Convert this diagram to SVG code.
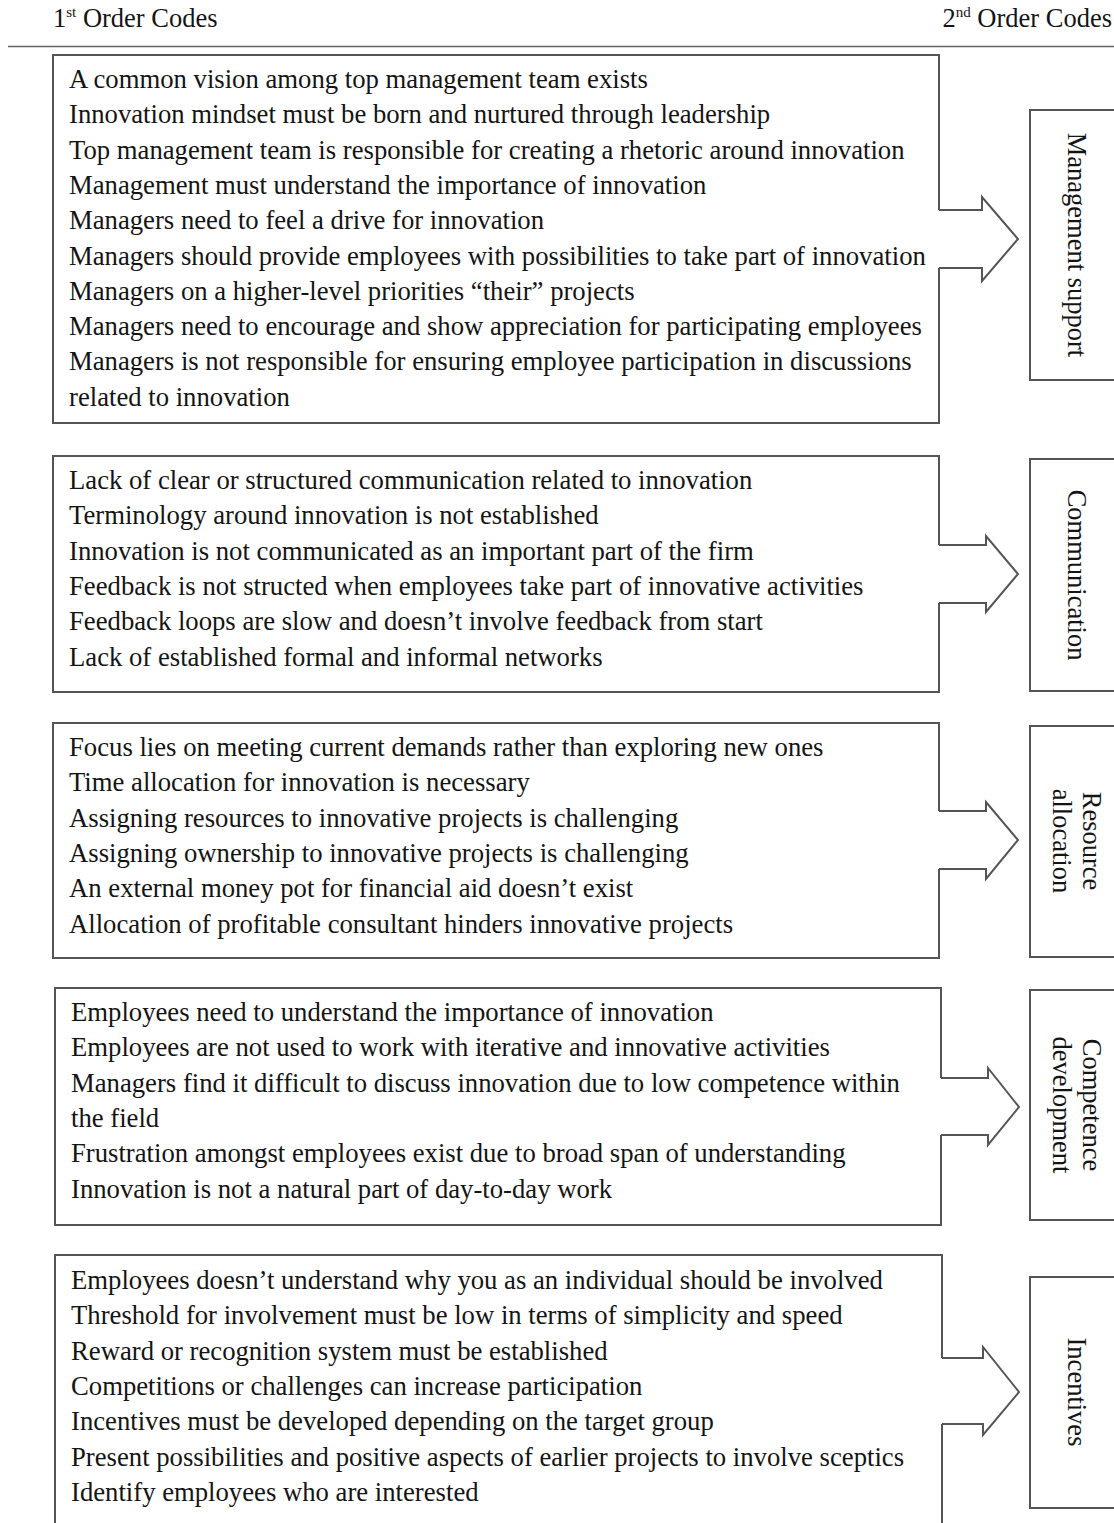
<svg xmlns="http://www.w3.org/2000/svg" width="1114" height="1523" viewBox="0 0 1114 1523">
<style>
.t{font-family:"Liberation Serif","Times New Roman",serif;font-size:26.7px;fill:#141414}
.h{font-size:26.5px}
.sup{font-size:15px}
.b{fill:none;stroke:#555;stroke-width:2}
.a{fill:none;stroke:#555;stroke-width:2;stroke-linejoin:miter}
.lbl{font-family:"Liberation Serif","Times New Roman",serif;font-size:26.5px;fill:#141414;text-anchor:middle}
</style>
<rect width="1114" height="1523" fill="#fff"/>
<g id="header">
<text class="t h" x="53" y="27">1<tspan class="sup" dy="-10">st</tspan><tspan dy="10"> Order Codes</tspan></text>
<text class="t h" x="1112" y="27" text-anchor="end">2<tspan class="sup" dy="-10">nd</tspan><tspan dy="10"> Order Codes</tspan></text>
<line x1="8" y1="46.5" x2="1114" y2="46.5" stroke="#666" stroke-width="1.5"/>
</g>
<g id="box-management">
<path class="b" d="M939,210 V55 H53 V423 H939 V268"/>
<text class="t">
<tspan x="69" y="88">A common vision among top management team exists</tspan>
<tspan x="69" dy="35.3">Innovation mindset must be born and nurtured through leadership</tspan>
<tspan x="69" dy="35.3">Top management team is responsible for creating a rhetoric around innovation</tspan>
<tspan x="69" dy="35.3">Management must understand the importance of innovation</tspan>
<tspan x="69" dy="35.3">Managers need to feel a drive for innovation</tspan>
<tspan x="69" dy="35.3">Managers should provide employees with possibilities to take part of innovation</tspan>
<tspan x="69" dy="35.3">Managers on a higher-level priorities “their” projects</tspan>
<tspan x="69" dy="35.3">Managers need to encourage and show appreciation for participating employees</tspan>
<tspan x="69" dy="35.3">Managers is not responsible for ensuring employee participation in discussions</tspan>
<tspan x="69" dy="35.3">related to innovation</tspan>
</text>
</g>
<g id="box-communication">
<path class="b" d="M939,545 V456 H53 V692 H939 V603"/>
<text class="t">
<tspan x="69" y="489">Lack of clear or structured communication related to innovation</tspan>
<tspan x="69" dy="35.3">Terminology around innovation is not established</tspan>
<tspan x="69" dy="35.3">Innovation is not communicated as an important part of the firm</tspan>
<tspan x="69" dy="35.3">Feedback is not structed when employees take part of innovative activities</tspan>
<tspan x="69" dy="35.3">Feedback loops are slow and doesn’t involve feedback from start</tspan>
<tspan x="69" dy="35.3">Lack of established formal and informal networks</tspan>
</text>
</g>
<g id="box-resource">
<path class="b" d="M939,811 V723 H53 V958 H939 V869"/>
<text class="t">
<tspan x="69" y="756">Focus lies on meeting current demands rather than exploring new ones</tspan>
<tspan x="69" dy="35.3">Time allocation for innovation is necessary</tspan>
<tspan x="69" dy="35.3">Assigning resources to innovative projects is challenging</tspan>
<tspan x="69" dy="35.3">Assigning ownership to innovative projects is challenging</tspan>
<tspan x="69" dy="35.3">An external money pot for financial aid doesn’t exist</tspan>
<tspan x="69" dy="35.3">Allocation of profitable consultant hinders innovative projects</tspan>
</text>
</g>
<g id="box-competence">
<path class="b" d="M941,1078 V988 H55 V1225 H941 V1135"/>
<text class="t">
<tspan x="71" y="1021">Employees need to understand the importance of innovation</tspan>
<tspan x="71" dy="35.3">Employees are not used to work with iterative and innovative activities</tspan>
<tspan x="71" dy="35.3">Managers find it difficult to discuss innovation due to low competence within</tspan>
<tspan x="71" dy="35.3">the field</tspan>
<tspan x="71" dy="35.3">Frustration amongst employees exist due to broad span of understanding</tspan>
<tspan x="71" dy="35.3">Innovation is not a natural part of day-to-day work</tspan>
</text>
</g>
<g id="box-incentives">
<path class="b" d="M942,1358 V1255 H55 V1540 M942,1540 V1424"/>
<text class="t">
<tspan x="71" y="1289">Employees doesn’t understand why you as an individual should be involved</tspan>
<tspan x="71" dy="35.3">Threshold for involvement must be low in terms of simplicity and speed</tspan>
<tspan x="71" dy="35.3">Reward or recognition system must be established</tspan>
<tspan x="71" dy="35.3">Competitions or challenges can increase participation</tspan>
<tspan x="71" dy="35.3">Incentives must be developed depending on the target group</tspan>
<tspan x="71" dy="35.3">Present possibilities and positive aspects of earlier projects to involve sceptics</tspan>
<tspan x="71" dy="35.3">Identify employees who are interested</tspan>
</text>
</g>
<g id="connectors">
<path class="a" d="M939,210 H982 V197 L1018,239 L982,281 V268 H939"/>
<path class="a" d="M939,545 H986 V536 L1018,574 L986,612 V603 H939"/>
<path class="a" d="M939,811 H986 V802 L1018,840 L986,879 V869 H939"/>
<path class="a" d="M941,1078 H988 V1068 L1019,1107 L988,1145 V1135 H941"/>
<path class="a" d="M942,1358 H983 V1347 L1019,1392 L983,1435 V1424 H942"/>
</g>
<g id="code-management-support">
<rect class="b" x="1030" y="110" width="100" height="270"/>
<text class="lbl" transform="translate(1067.5,245) rotate(90)">Management support</text>
</g>
<g id="code-communication">
<rect class="b" x="1030" y="459" width="100" height="232"/>
<text class="lbl" transform="translate(1067.5,575) rotate(90)">Communication</text>
</g>
<g id="code-resource-allocation">
<rect class="b" x="1030" y="726" width="100" height="231"/>
<text class="lbl" transform="translate(1082.5,841) rotate(90)"><tspan x="0" y="0">Resource</tspan><tspan x="0" dy="30">allocation</tspan></text>
</g>
<g id="code-competence-development">
<rect class="b" x="1030" y="990" width="100" height="230"/>
<text class="lbl" transform="translate(1083,1105) rotate(90)"><tspan x="0" y="0">Competence</tspan><tspan x="0" dy="30">development</tspan></text>
</g>
<g id="code-incentives">
<rect class="b" x="1030" y="1277" width="100" height="231"/>
<text class="lbl" transform="translate(1067.5,1392) rotate(90)">Incentives</text>
</g>
</svg>
